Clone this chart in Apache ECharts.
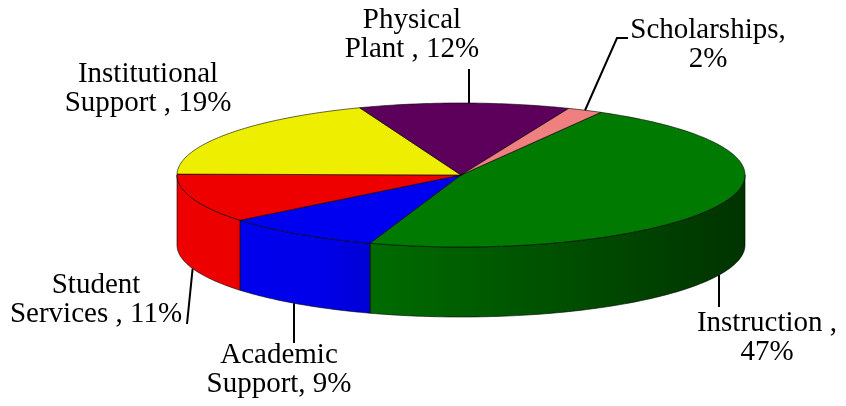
<!DOCTYPE html>
<html>
<head>
<meta charset="utf-8">
<script src="https://cdn.jsdelivr.net/npm/echarts@6/dist/echarts.min.js"></script>
<style>
  html, body { margin: 0; padding: 0; background: #fff; }
  #chart { width: 846px; height: 406px; }
</style>
</head>
<body>
<div id="chart"></div>
<script>
// data, clockwise from the first slice
const categories = ["Instruction", "Academic Support", "Student Services", "Institutional Support", "Physical Plant", "Scholarships"]
const shares = [47, 9, 11, 19, 12, 2]
const labelPrefixes = ["Instruction ,\n", "Academic\nSupport, ", "Student\nServices , ", "Institutional\nSupport , ", "Physical\nPlant , ", "Scholarships,\n"]
const colors = ["#007a00", "#0000f0", "#ee0000", "#eeee00", "#5c005c", "#f08080"]

// 3d pie geometry (pixels)
const pie = { cx: 461, cy: 175, rx: 284, ry: 72, depth: 70, startAngle: 29.5 }

// label boxes and leader line end points
// vertical: the leader drops straight from the pie edge to its first point
const labelLayout = [
  { x: 767, y: 338, line: [[719, 307]], vertical: true },
  { x: 279, y: 370, line: [[294, 343]], vertical: true },
  { x: 96, y: 300, line: [[187, 324]], vertical: false },
  { x: 148, y: 89, line: null },
  { x: 412, y: 35, line: [[469, 69]], vertical: true },
  { x: 708, y: 45, line: [[617, 38], [628, 38]], vertical: false }
]

const total = shares.reduce((a, b) => a + b, 0)
const cum = []
shares.reduce((acc, v, i) => { cum[i] = acc; return acc + v }, 0)

function pt(deg, dy) {
  const r = deg * Math.PI / 180
  return [pie.cx + pie.rx * Math.sin(r), pie.cy - pie.ry * Math.cos(r) + dy]
}

function arc(a, b, dy) {
  const pts = []
  const n = Math.max(2, Math.ceil(b - a))
  for (let k = 0; k <= n; k++) pts.push(pt(a + (b - a) * k / n, dy))
  return pts
}

function shade(hex, k) {
  const c = echarts.color.parse(hex)
  return "rgb(" + [0, 1, 2].map(j => Math.round(c[j] * k)).join(",") + ")"
}

function renderItem(params) {
  const i = params.dataIndex
  const a0 = pie.startAngle + 360 * cum[i] / total
  const a1 = a0 + 360 * shares[i] / total
  const base = colors[i]
  const children = []

  // outer wall, only the front half shows
  ;[[90, 270], [450, 630]].forEach(([lo, hi]) => {
    const s = Math.max(a0, lo), e = Math.min(a1, hi)
    if (s < e) {
      children.push({
        type: "polygon",
        z2: 1,
        shape: { points: arc(s, e, 0).concat(arc(s, e, pie.depth).reverse()) },
        style: {
          fill: {
            type: "linear", global: true,
            x: pie.cx - pie.rx, y: 0, x2: pie.cx + pie.rx, y2: 0,
            colorStops: [
              { offset: 0, color: shade(base, 1) },
              { offset: 0.25, color: shade(base, 0.97) },
              { offset: 0.35, color: shade(base, 0.88) },
              { offset: 1, color: shade(base, 0.42) }
            ]
          },
          stroke: "rgba(0,0,0,0.75)",
          lineWidth: 0.8
        }
      })
    }
  })

  // top face
  children.push({
    type: "polygon",
    z2: 2,
    shape: { points: [[pie.cx, pie.cy]].concat(arc(a0, a1, 0)) },
    style: { fill: base, stroke: "rgba(0,0,0,0.75)", lineWidth: 0.8 }
  })

  // leader line
  const lay = labelLayout[i]
  if (lay.line) {
    const mid = (a0 + a1) / 2
    const m = ((mid % 360) + 360) % 360
    const front = m > 90 && m < 270
    let start
    if (lay.vertical) {
      const x = lay.line[0][0]
      const t = (x - pie.cx) / pie.rx
      const h = pie.ry * Math.sqrt(Math.max(0, 1 - t * t))
      start = [x, front ? pie.cy + h + pie.depth : pie.cy - h]
    } else {
      start = pt(mid, front ? pie.depth : 0)
    }
    children.push({
      type: "polyline",
      z2: 3,
      shape: { points: [start].concat(lay.line) },
      style: { stroke: "#000", lineWidth: 2, fill: null }
    })
  }

  children.push({
    type: "text",
    z2: 4,
    style: {
      text: labelPrefixes[i] + shares[i] + "%",
      x: lay.x,
      y: lay.y,
      align: "center",
      verticalAlign: "middle",
      fontFamily: "Liberation Serif",
      fontSize: 29,
      lineHeight: 29,
      fill: "#000"
    }
  })

  return { type: "group", children: children }
}

const chart = echarts.init(document.getElementById("chart"))
chart.setOption({
  animation: false,
  backgroundColor: "#fff",
  series: [{
    type: "custom",
    coordinateSystem: "none",
    renderItem: renderItem,
    data: shares.map((v, i) => ({ name: categories[i], value: v }))
  }]
})
</script>
</body>
</html>
